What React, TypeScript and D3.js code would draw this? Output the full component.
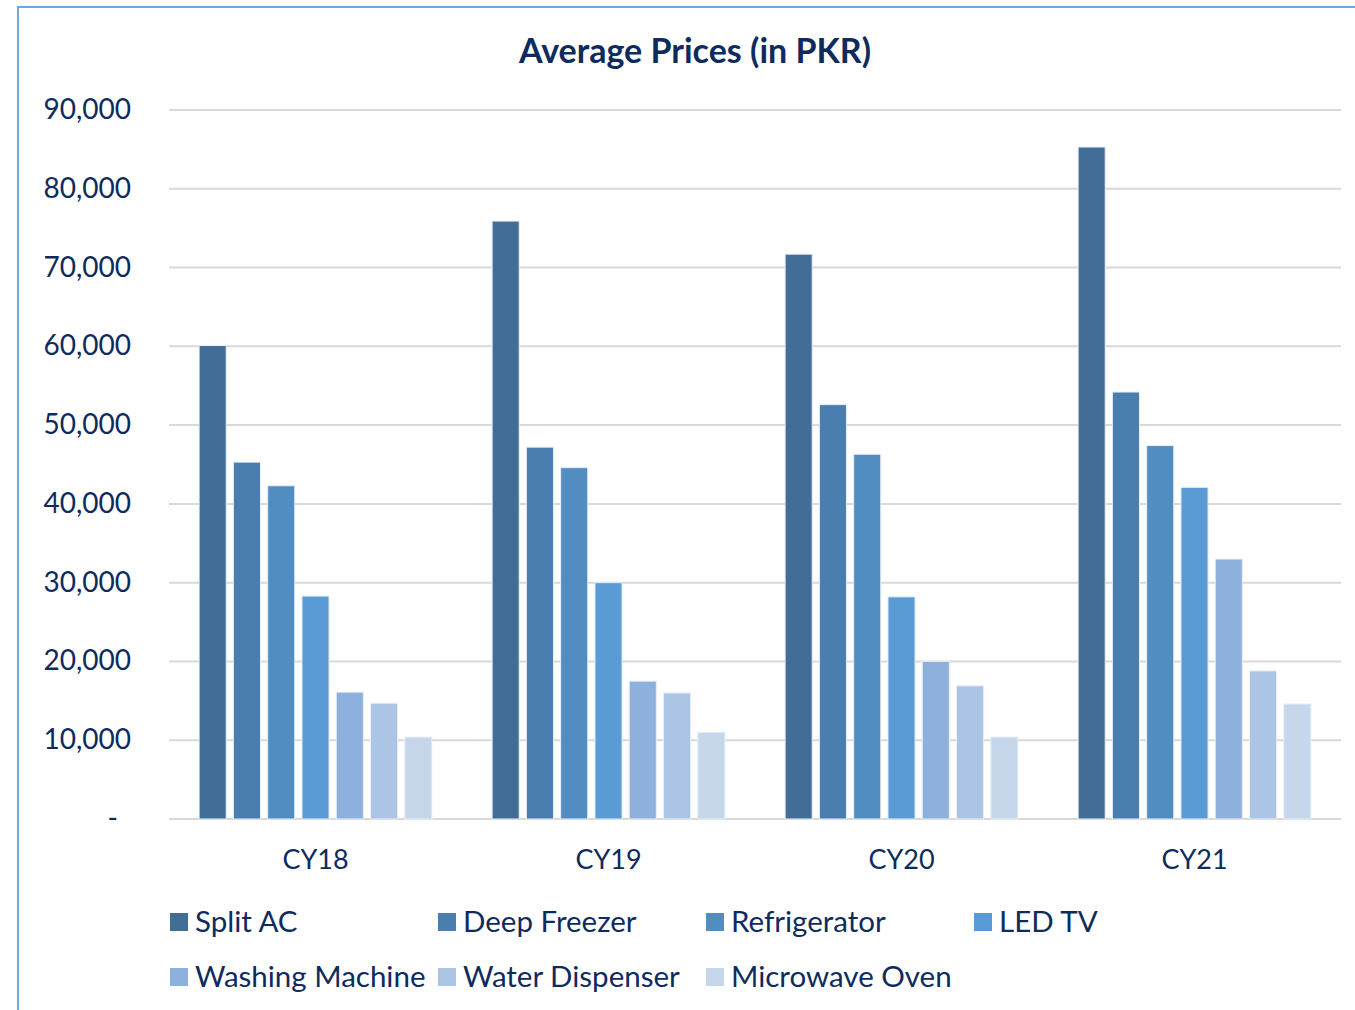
import { useEffect, useRef } from "react";
import * as d3 from "d3";

const years = ["CY18", "CY19", "CY20", "CY21"];
const products = ["Split AC", "Deep Freezer", "Refrigerator", "LED TV", "Washing Machine", "Water Dispenser", "Microwave Oven"];
const splitAC = [60100, 75900, 71700, 85300];
const deepFreezer = [45300, 47200, 52600, 54200];
const refrigerator = [42300, 44600, 46300, 47400];
const ledTV = [28300, 30000, 28200, 42100];
const washingMachine = [16100, 17500, 20000, 33000];
const waterDispenser = [14700, 16000, 16900, 18800];
const microwaveOven = [10400, 11000, 10400, 14600];
const yTicks = [0, 10000, 20000, 30000, 40000, 50000, 60000, 70000, 80000, 90000];
const colors = ["#416d97", "#4a7eaf", "#528dc2", "#5b9bd5", "#8db1dc", "#adc5e4", "#c6d7ec"];

const series = [splitAC, deepFreezer, refrigerator, ledTV, washingMachine, waterDispenser, microwaveOven];

const W = 1355, H = 1010;
const navy = "#0e2b5e";
const font = "Lato, 'Open Sans', sans-serif";

export default function App() {
  const ref = useRef<SVGSVGElement>(null);

  useEffect(() => {
    const svg = d3.select(ref.current);
    svg.selectAll("*").remove();

    const x0 = d3.scaleBand().domain(years).range([169, 1341]).paddingInner(0).paddingOuter(0);
    const x1 = d3.scaleBand().domain(products).range([26.5, x0.bandwidth() - 26.5]).paddingInner(0.21).paddingOuter(0.105);
    const y = d3.scaleLinear().domain([0, 90000]).range([819, 110]);

    // frame
    svg.append("path").attr("d", `M18,${H} L18,7 L${W},7`).attr("fill", "none").attr("stroke", "#6fa8dc").attr("stroke-width", 2);

    svg.append("text").attr("x", 695).attr("y", 63).attr("text-anchor", "middle")
      .attr("font-family", font).attr("font-weight", "bold").attr("font-size", 34).attr("fill", navy)
      .text("Average Prices (in PKR)");

    const grid = svg.append("g");
    grid.selectAll("line").data(yTicks).join("line")
      .attr("x1", 169).attr("x2", 1341)
      .attr("y1", d => y(d)).attr("y2", d => y(d))
      .attr("stroke", "#d9d9d9").attr("stroke-width", 2);

    svg.append("g").selectAll("text").data(yTicks).join("text")
      .attr("x", d => (d === 0 ? 118 : 131)).attr("y", d => y(d) + 9)
      .attr("text-anchor", "end").attr("font-family", font).attr("font-size", 28).attr("fill", navy)
      .text(d => (d === 0 ? "-" : d3.format(",")(d)));

    const groups = svg.append("g").selectAll("g").data(years).join("g")
      .attr("transform", d => `translate(${x0(d)},0)`);
    groups.selectAll("rect").data((_, i) => products.map((p, j) => ({ p, j, v: series[j][i] }))).join("rect")
      .attr("x", d => x1(d.p)!).attr("width", x1.bandwidth())
      .attr("y", d => y(d.v)).attr("height", d => y(0) - y(d.v))
      .attr("fill", d => colors[d.j]).attr("stroke", "#e8eef7").attr("stroke-width", 1);

    svg.append("g").selectAll("text").data(years).join("text")
      .attr("x", d => x0(d)! + x0.bandwidth() / 2).attr("y", 869)
      .attr("text-anchor", "middle").attr("font-family", font).attr("font-size", 27).attr("fill", navy)
      .text(d => d);

    const leg = svg.append("g").selectAll("g").data(products).join("g")
      .attr("transform", (_, i) => `translate(${170 + (i % 4) * 268},${i < 4 ? 922 : 977})`);
    leg.append("rect").attr("x", 0).attr("y", -9).attr("width", 18).attr("height", 18).attr("fill", (_, i) => colors[i]);
    leg.append("text").attr("x", 25).attr("y", 10).attr("font-family", font).attr("font-size", 29.5).attr("fill", navy)
      .text(d => d);
  }, []);

  return (
    <svg ref={ref} width={W} height={H} style={{ position: "absolute", left: 0, top: 0, background: "#fff" }} />
  );
}
